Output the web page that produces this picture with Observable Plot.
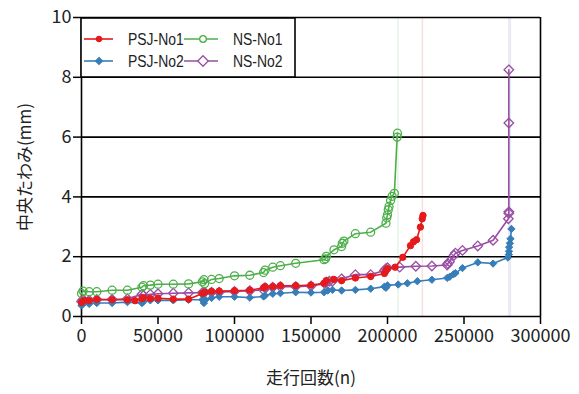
<!DOCTYPE html>
<html><head><meta charset="utf-8">
<script src="https://cdn.jsdelivr.net/npm/d3@7"></script>
<script src="https://cdn.jsdelivr.net/npm/@observablehq/plot@0.6"></script>
<style>
body{margin:0;background:#fff;}
#wrap{position:relative;width:579px;height:394px;}
</style></head><body><div id="wrap"></div>
<script>
// ---- data ----
const psj1X = [0,1500,5000,10000,20000,30000,35000,39500,40500,45000,50000,60000,70000,79000,80500,85000,90000,100000,110000,119000,120000,125000,130000,140000,150000,158500,160000,165000,170000,179000,189000,198000,199000,200000,205000,210000,215000,217000,219000,221500,222700,223200];
const psj1Y = [0.47,0.54,0.53,0.57,0.56,0.56,0.53,0.60,0.63,0.60,0.61,0.58,0.58,0.77,0.81,0.84,0.85,0.86,0.88,0.96,1.00,1.00,1.03,1.03,1.05,1.11,1.20,1.24,1.20,1.29,1.34,1.44,1.53,1.60,1.65,1.98,2.37,2.50,2.57,2.99,3.27,3.38];

const psj2X = [0,1000,5000,10000,20000,30000,39500,40500,45000,50000,60000,70000,79000,80000,81000,85000,90000,100000,110000,119000,120000,125000,130000,140000,150000,158500,161000,164000,170000,179000,189000,198000,199000,200000,207000,213000,219500,229000,239000,240700,243300,244400,249000,259000,269000,278700,279300,279400,279500,280000,280400,281000];
const psj2Y = [0.37,0.42,0.42,0.45,0.45,0.48,0.45,0.50,0.54,0.54,0.54,0.56,0.56,0.45,0.56,0.62,0.66,0.66,0.63,0.67,0.70,0.76,0.78,0.81,0.80,0.81,0.87,0.89,0.87,0.89,0.93,1.00,0.96,1.04,1.07,1.11,1.18,1.23,1.29,1.33,1.42,1.45,1.62,1.81,1.77,1.97,2.07,2.18,2.32,2.45,2.60,2.93];

const ns1X = [0,1000,5000,10000,20000,30000,39500,40500,45000,50000,60000,70000,79000,80000,80500,85000,90000,100000,110000,119000,120000,125000,130000,140000,158500,159500,160000,165000,170000,170500,171500,179000,189000,199000,199500,200000,200500,201000,202000,203000,204500,206300,206500];
const ns1Y = [0.77,0.85,0.83,0.83,0.88,0.88,0.98,1.03,1.05,1.08,1.08,1.09,1.16,1.23,1.10,1.24,1.27,1.36,1.38,1.47,1.55,1.65,1.70,1.78,1.90,1.93,2.01,2.23,2.34,2.45,2.52,2.77,2.82,3.12,3.30,3.40,3.57,3.68,3.88,4.02,4.12,6.00,6.13];

const ns2X = [0,1000,5000,10000,20000,30000,39500,40500,45000,50000,60000,70000,79000,80500,85000,90000,100000,110000,119000,120000,125000,130000,140000,150000,159000,160000,162000,164000,170000,179000,189000,198000,199000,200000,208000,218500,229000,239000,239400,240500,243500,244400,249000,259000,269000,279000,279300,279300,279300,279300];
const ns2Y = [0.50,0.57,0.54,0.57,0.57,0.59,0.74,0.70,0.74,0.76,0.78,0.79,0.80,0.81,0.81,0.81,0.84,0.86,0.89,0.96,0.98,1.00,1.00,1.02,1.10,1.15,1.18,1.18,1.26,1.40,1.40,1.54,1.60,1.63,1.65,1.68,1.69,1.72,1.77,1.83,2.05,2.12,2.21,2.36,2.55,3.27,3.45,3.50,6.47,8.25];

const seriesNames = ["PSJ-No1","PSJ-No2","NS-No1","NS-No2"];
const seriesColors = ["#e41a1c","#377eb8","#4daf4a","#984ea3"];
const endRunX = [206800, 222800, 279300, 280300];
const endRunColors = ["#4daf4a","#e41a1c","#984ea3","#377eb8"];
const xTicks = [0,50000,100000,150000,200000,250000,300000];
const yTicks = [0,2,4,6,8,10];
const xLabel = "走行回数(n)";
const yLabel = "中央たわみ(mm)";

// ---- build tables ----
const zip = (xs, ys) => xs.map((x, i) => ({x, y: ys[i]}));
const S = {
  psj1: zip(psj1X, psj1Y),
  psj2: zip(psj2X, psj2Y),
  ns1: zip(ns1X, ns1Y),
  ns2: zip(ns2X, ns2Y)
};
const endRuns = endRunX.map((x, i) => ({x, c: endRunColors[i]}));
const FONT = "'Noto Sans CJK JP', 'Noto Sans', sans-serif";

const chart = Plot.plot({
  width: 579, height: 394,
  marginLeft: 81, marginRight: 39, marginTop: 17, marginBottom: 78,
  style: {fontFamily: FONT, fontSize: "18px", color: "#222", background: "#fff"},
  x: {domain: [0, 300000]},
  y: {domain: [0, 10]},
  marks: [
    Plot.ruleX(endRuns, {x: "x", stroke: "c", strokeOpacity: 0.14, strokeWidth: 1.5}),
    Plot.ruleY(yTicks.filter(v => v > 0), {stroke: "#000", strokeWidth: 1.6}),
    Plot.ruleX([300000], {stroke: "#000", strokeWidth: 1.6}),
    Plot.ruleX([0], {stroke: "#000", strokeWidth: 1.6}),
    Plot.ruleY([0], {stroke: "#000", strokeWidth: 1.6}),
    Plot.axisX({ticks: xTicks, tickFormat: d3.format("d"), tickSize: 8, tickPadding: 5, label: null, stroke: "#000", strokeWidth: 1.5}),
    Plot.axisY({ticks: yTicks, tickSize: 8, tickPadding: 2, label: null, stroke: "#000", strokeWidth: 1.5}),
    // NS-No2
    Plot.line(S.ns2, {x: "x", y: "y", stroke: seriesColors[3], strokeWidth: 1.6}),
    Plot.dot(S.ns2, {x: "x", y: "y", symbol: "diamond2", r: 4.3, stroke: seriesColors[3], fill: "none", strokeWidth: 1.3}),
    // NS-No1
    Plot.line(S.ns1, {x: "x", y: "y", stroke: seriesColors[2], strokeWidth: 1.6}),
    Plot.dot(S.ns1, {x: "x", y: "y", symbol: "circle", r: 4, stroke: seriesColors[2], fill: "none", strokeWidth: 1.3}),
    // PSJ-No2
    Plot.line(S.psj2, {x: "x", y: "y", stroke: seriesColors[1], strokeWidth: 1.6}),
    Plot.dot(S.psj2, {x: "x", y: "y", symbol: "diamond2", r: 3.3, fill: seriesColors[1], stroke: seriesColors[1], strokeWidth: 1}),
    // PSJ-No1
    Plot.line(S.psj1, {x: "x", y: "y", stroke: seriesColors[0], strokeWidth: 1.6}),
    Plot.dot(S.psj1, {x: "x", y: "y", symbol: "circle", r: 3.2, fill: seriesColors[0], stroke: seriesColors[0], strokeWidth: 1}),
    // axis titles
    Plot.text([xLabel], {text: d => d, frameAnchor: "bottom", dy: 67, fontSize: 17, fill: "#222"}),
    Plot.text([yLabel], {text: d => d, frameAnchor: "left", textAnchor: "middle", dx: -56, rotate: -90, fontSize: 17, fill: "#222"})
  ]
});
const wrap = document.getElementById("wrap");
wrap.appendChild(chart);

// ---- legend overlay ----
const leg = d3.select(wrap).append("svg")
  .attr("width", 579).attr("height", 394)
  .style("position", "absolute").style("left", "0px").style("top", "0px");
leg.append("rect").attr("x", 81).attr("y", 18).attr("width", 214).attr("height", 59)
  .attr("fill", "#fff").attr("stroke", "#000").attr("stroke-width", 1.6);
const colLine = [[84, 113, 99, 128], [184, 218, 203, 233]];
const rowY = [39, 61];
const legSym = [
  {type: d3.symbolCircle, size: 22, fill: true},
  {type: d3.symbolDiamond2, size: 30, fill: true},
  {type: d3.symbolCircle, size: 34, fill: false},
  {type: d3.symbolDiamond2, size: 70, fill: false}
];
seriesNames.forEach((name, i) => {
  const col = Math.floor(i / 2), row = i % 2;
  const [x1, x2, xm, xt] = colLine[col];
  const y = rowY[row];
  const g = leg.append("g");
  g.append("line").attr("x1", x1).attr("x2", x2).attr("y1", y).attr("y2", y)
    .attr("stroke", seriesColors[i]).attr("stroke-width", 1.6);
  const s = legSym[i];
  g.append("path").attr("d", d3.symbol(s.type, s.size)())
    .attr("transform", `translate(${xm},${y})`)
    .attr("fill", s.fill ? seriesColors[i] : "#fff")
    .attr("stroke", seriesColors[i]).attr("stroke-width", 1.3);
  g.append("text").attr("transform", `translate(${xt},${y}) scale(0.82,1)`).attr("dy", "0.36em")
    .attr("font-family", "'Liberation Sans', Arial, sans-serif").attr("font-size", 17).attr("fill", "#222")
    .text(name);
});
</script></body></html>
